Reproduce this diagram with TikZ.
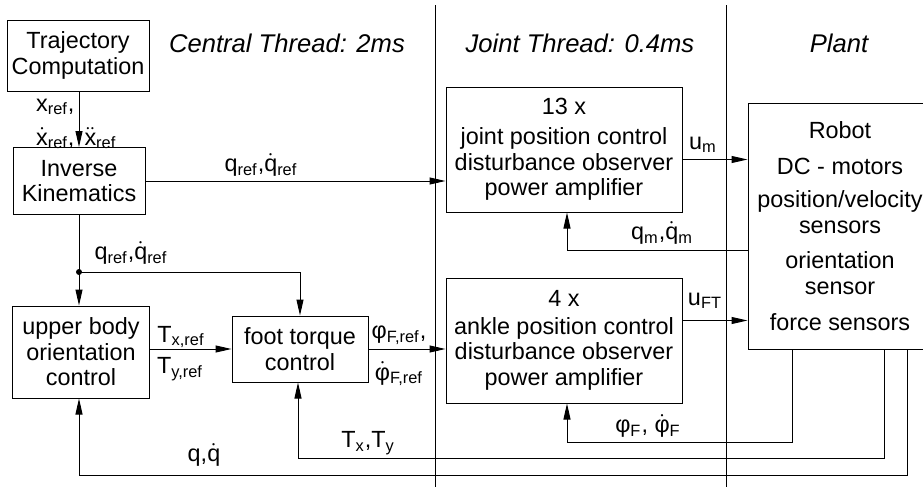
\documentclass[tikz,border=0pt]{standalone}
\usepackage{amsmath}
\usepackage{fontspec}
\setmainfont{Liberation Sans}
\usetikzlibrary{arrows.meta}
\newcommand{\dotted}[1]{$\dot{\text{#1}}$}
\newcommand{\ddotted}[1]{$\ddot{\text{#1}}$}
\tikzset{
  blk/.style={draw,align=center,inner sep=0pt},
  lbl/.style={inner sep=0pt},
  hdr/.style={inner sep=0pt,font=\fontsize{12.8}{14}\selectfont\itshape},
  sig/.style={-{Triangle[length=8pt,width=3.5pt]}}
}
\begin{document}
\begin{tikzpicture}[x=0.5pt,y=-0.5pt,line width=.5pt,font=\fontsize{11.7}{12.8}\selectfont]
\useasboundingbox (0,0) rectangle (923,487);
% thread separators
\draw (435,5)--(435,487);
\draw (726,5)--(726,487);
\node[hdr] (hcentral) at (287,43) {Central Thread: 2ms};
\node[hdr] (hjoint) at (580,43) {Joint Thread: 0.4ms};
\node[hdr] (hplant) at (839,43) {Plant};
% blocks
\node[blk,minimum width=71pt,minimum height=35.5pt] (traj) at (78,55.5) {Trajectory\\Computation};
\node[blk,minimum width=66pt,minimum height=33.5pt] (invkin) at (79,181) {Inverse\\Kinematics};
\node[blk,minimum width=68.5pt,minimum height=46pt] (upper) at (81,352) {upper body\\orientation\\control};
\node[blk,minimum width=68pt,minimum height=33pt] (foot) at (300,349) {foot torque\\control};
\node[blk,minimum width=118pt,minimum height=62.5pt] (joint) at (564,149.5) {13 x\\[2pt]joint position control\\disturbance observer\\power amplifier};
\node[blk,minimum width=118pt,minimum height=62.5pt] (ankle) at (564,340.5) {4 x\\[1pt]ankle position control\\disturbance observer\\power amplifier};
\node[blk,minimum width=92pt,minimum height=123pt] (robot) at (840,226) {Robot\\[5pt]DC - motors\\[4pt]position/velocity\\sensors\\[5pt]orientation\\sensor\\[5pt]force sensors};
% connectors
\draw[sig] (traj.south -| invkin.north) -- (invkin.north);
\draw[sig] (invkin.east) -- (invkin.east -| joint.west);
\coordinate (split) at (79,272);
\draw (invkin.south) -- (split);
\fill (split) circle (1.5pt);
\draw[sig] (split) -- (split |- upper.north);
\draw[sig] (split) -| (foot.north);
\draw[sig] (foot.west -| upper.east) -- (foot.west);
\draw[sig] (foot.east) -- (foot.east -| ankle.west);
\draw[sig] ([yshift=-5pt]joint.east) -- ([yshift=-5pt]joint.east -| robot.west);
\draw[sig] ([yshift=10pt]ankle.east) -- ([yshift=10pt]ankle.east -| robot.west);
\draw[sig] ([yshift=-12pt]robot.west) -| ([xshift=1.5pt]joint.south);
\draw[sig] ([xshift=-24pt]robot.south) -- ++(0,93) -| ([xshift=1.5pt]ankle.south);
\draw[sig] ([xshift=22pt]robot.south) -- ++(0,109) -| ([xshift=-1pt]foot.south);
\draw[sig] ([xshift=33.5pt]robot.south) -- ++(0,126) -| (invkin.south |- upper.south);
% signal labels
\node[lbl,anchor=east] (xref) at (75,107) {x\textsubscript{ref},};
\node[lbl,anchor=east] (xdref) at (75,138) {\dotted{x}\textsubscript{ref},};
\node[lbl,anchor=west] (xddref) at (84,138) {\ddotted{x}\textsubscript{ref}};
\node[lbl] (qrefA) at (261,165) {q\textsubscript{ref},\dotted{q}\textsubscript{ref}};
\node[lbl] (qrefB) at (131,253) {q\textsubscript{ref},\dotted{q}\textsubscript{ref}};
\node[lbl] (txref) at (181,337) {T\textsubscript{x,ref}};
\node[lbl] (tyref) at (180,369) {T\textsubscript{y,ref}};
\node[lbl] (phiref) at (399,335) {φ\textsubscript{F,ref},};
\node[lbl] (phidref) at (399,374) {\dotted{φ}\textsubscript{F,ref}};
\node[lbl] (txy) at (368,443) {T\textsubscript{x},T\textsubscript{y}};
\node[lbl] (qqd) at (204,455) {q,\dotted{q}};
\node[lbl] (um) at (703,145) {u\textsubscript{m}};
\node[lbl] (qm) at (662,233) {q\textsubscript{m},\dotted{q}\textsubscript{m}};
\node[lbl] (uft) at (705,301) {u\textsubscript{FT}};
\node[lbl] (phif) at (648,426) {φ\textsubscript{F}, \dotted{φ}\textsubscript{F}};
\end{tikzpicture}
\end{document}
